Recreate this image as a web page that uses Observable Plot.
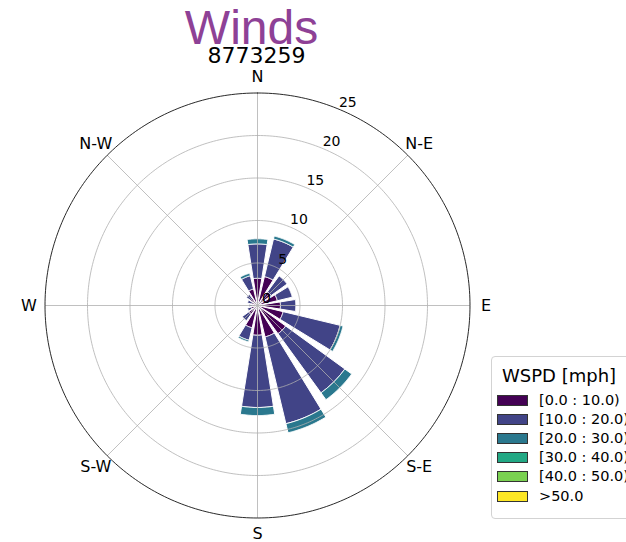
<!DOCTYPE html>
<html><head><meta charset="utf-8">
<script src="https://cdn.jsdelivr.net/npm/d3@7"></script>
<script src="https://cdn.jsdelivr.net/npm/@observablehq/plot@0.6"></script>
<style>
body{margin:0;background:#fff;}
#wrap{position:relative;width:626px;height:542px;overflow:hidden;background:#fff;}
#legend{position:absolute;left:491px;top:356px;width:150px;height:161px;border:1px solid #d3d3d3;border-radius:4px;background:rgba(255,255,255,0.85);font-family:"DejaVu Sans",sans-serif;color:#000;}
#legend .lt{position:absolute;left:10px;top:6px;font-size:18px;line-height:26px;white-space:nowrap;}
#legend .row{position:absolute;left:5px;height:20px;white-space:nowrap;}
#legend .sw{position:absolute;left:0;top:5px;width:29px;height:9px;border:1px solid #333;}
#legend .lab{position:absolute;left:42px;top:0;font-size:14.5px;line-height:20px;}
</style></head><body><div id="wrap"><div id="legend"></div></div>
<script>
// ---- data ----
const directions = ["N","NNE","NE","ENE","E","ESE","SE","SSE","S","SSW","SW","WSW","W","WNW","NW","NNW"];
const directionAngles = [0,22.5,45,67.5,90,112.5,135,157.5,180,202.5,225,247.5,270,292.5,315,337.5];
const speedBins = ["[0.0 : 10.0)","[10.0 : 20.0)","[20.0 : 30.0)","[30.0 : 40.0)","[40.0 : 50.0)",">50.0"];
const binColors = ["#440154","#414487","#2a788e","#22a884","#7ad151","#fde725"];
const speed0to10  = [3.2, 3.5, 2.0, 2.4, 2.7, 3.1, 4.1, 3.8, 3.5, 2.7, 1.3, 0.8, 0.6, 0.7, 1.0, 2.0];
const speed10to20 = [4.05,4.55,2.3, 1.8, 1.8, 6.9, 8.6,10.5, 8.5, 1.5, 0.9, 0.4, 0.4, 0.5, 0.6, 1.6];
const speed20to30 = [0.6, 0.35,0,   0,   0,   0.35,1.0, 1.1, 0.95,0.2, 0,   0,   0,   0,   0,   0.3];
const speed30to40 = [0,0,0,0,0,0,0,0,0,0,0,0,0,0,0,0];
const speed40to50 = [0,0,0,0,0,0,0,0,0,0,0,0,0,0,0,0];
const speedAbove50 = [0,0,0,0,0,0,0,0,0,0,0,0,0,0,0,0];
const radialTicks = [0,5,10,15,20,25];
const compassLabels = ["N","N-E","E","S-E","S","S-W","W","N-W"];
const compassAngles = [0,45,90,135,180,225,270,315];
const titleText = "Winds";
const subtitleText = "8773259";
const legendTitle = "WSPD [mph]";

// ---- layout ----
const W = 626, H = 542, cx = 257, cy = 305, pxPerUnit = 8.5;
const rMax = 25, halfOpening = 9, labelRadius = 26.9, rLabelAngle = 22.5;
const rad = d => d * Math.PI / 180;
const polar = (r, deg) => ({x: r * Math.sin(rad(deg)), y: r * Math.cos(rad(deg))});

const binSeries = [speed0to10, speed10to20, speed20to30, speed30to40, speed40to50, speedAbove50];
const wedges = [];
directions.forEach((dir, i) => {
  const theta = directionAngles[i];
  let r0 = 0;
  binSeries.forEach((series, k) => {
    const v = series[i];
    if (!(v > 0)) return;
    const r1 = r0 + v;
    const id = dir + "-" + k;
    const pts = [];
    for (let a = -halfOpening; a <= halfOpening + 1e-9; a += 0.5) pts.push(polar(r0, theta + a));
    for (let a = halfOpening; a >= -halfOpening - 1e-9; a -= 0.5) pts.push(polar(r1, theta + a));
    pts.push(pts[0]);
    pts.forEach(p => wedges.push({x: p.x, y: p.y, id, bin: speedBins[k]}));
    r0 = r1;
  });
});

const rings = [];
radialTicks.filter(r => r > 0).forEach(r => {
  for (let a = 0; a <= 360; a += 1) { const p = polar(r, a); rings.push({x: p.x, y: p.y, r}); }
});
const spokes = compassAngles.map(a => { const p = polar(rMax, a); return {x2: p.x, y2: p.y}; });
const compass = compassLabels.map((t, i) => ({...polar(labelRadius, compassAngles[i]), t}));
const rLabels = radialTicks.map(r => ({...polar(r * 1, rLabelAngle), t: String(r)}));

const chart = Plot.plot({
  width: W, height: H, margin: 0,
  x: {domain: [-cx / pxPerUnit, (W - cx) / pxPerUnit]},
  y: {domain: [-(H - cy) / pxPerUnit, cy / pxPerUnit]},
  axis: null,
  color: {type: "ordinal", domain: speedBins, range: binColors},
  style: {fontFamily: "DejaVu Sans, sans-serif", background: "white", color: "black"},
  marks: [
    Plot.line(wedges, {x: "x", y: "y", z: "id", fill: "bin", stroke: "white", strokeWidth: 1, curve: "linear"}),
    Plot.line(rings.filter(d => d.r < rMax), {x: "x", y: "y", z: "r", stroke: "#b0b0b0", strokeWidth: 0.8}),
    Plot.link(spokes, {x1: 0, y1: 0, x2: "x2", y2: "y2", stroke: "#b0b0b0", strokeWidth: 0.8}),
    Plot.line(rings.filter(d => d.r === rMax), {x: "x", y: "y", z: "r", stroke: "#111", strokeWidth: 0.9}),
    Plot.text(compass, {x: "x", y: "y", text: "t", fontSize: 16, fill: "black"}),
    Plot.text(rLabels, {x: "x", y: "y", text: "t", fontSize: 14, fill: "black", dx: 9, dy: -7}),
    Plot.text([titleText], {frameAnchor: "top-left", dx: 251, dy: 43, text: d => d, textAnchor: "middle", lineAnchor: "bottom", fontSize: 48, fontFamily: "Liberation Sans, Arial, sans-serif", fill: "#8e4196"}),
    Plot.text([subtitleText], {frameAnchor: "top-left", dx: 256, dy: 62.5, text: d => d, textAnchor: "middle", lineAnchor: "bottom", fontSize: 22, fill: "black"})
  ]
});
document.getElementById("wrap").prepend(chart);

// legend
const lg = document.getElementById("legend");
const lt = document.createElement("div"); lt.className = "lt"; lt.textContent = legendTitle; lg.appendChild(lt);
speedBins.forEach((b, i) => {
  const row = document.createElement("div"); row.className = "row";
  row.style.top = (32.5 + i * 19.2) + "px";
  const sw = document.createElement("div"); sw.className = "sw"; sw.style.background = binColors[i];
  const lab = document.createElement("div"); lab.className = "lab"; lab.textContent = b;
  row.appendChild(sw); row.appendChild(lab); lg.appendChild(row);
});
</script>
</body></html>
